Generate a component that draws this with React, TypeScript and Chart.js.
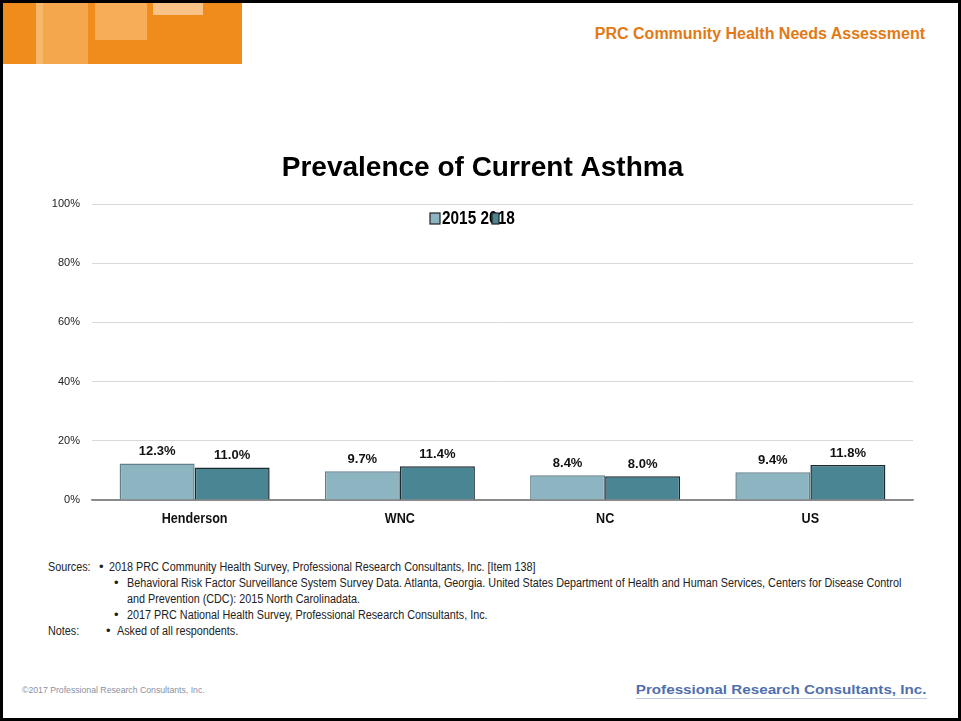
import React, { useEffect, useRef } from "react";
import { Chart, registerables } from "chart.js";

Chart.register(...registerables);

const TITLE = "Prevalence of Current Asthma";
const categories = ["Henderson", "WNC", "NC", "US"];
const seriesLabels = ["2015", "2018"];
const series2015 = [12.3, 9.7, 8.4, 9.4];
const series2018 = [11.0, 11.4, 8.0, 11.8];
const yTickValues = [0, 20, 40, 60, 80, 100];

const SANS = '"Liberation Sans", Arial, sans-serif';

const sourceLines = [
  { label: "Sources:", bullet: true, text: "2018 PRC Community Health Survey, Professional Research Consultants, Inc. [Item 138]", bx: 99, tx: 109 },
  { label: "", bullet: true, text: "Behavioral Risk Factor Surveillance System Survey Data. Atlanta, Georgia. United States Department of Health and Human Services, Centers for Disease Control", bx: 114, tx: 127 },
  { label: "", bullet: false, text: "and Prevention (CDC): 2015 North Carolinadata.", bx: 114, tx: 127 },
  { label: "", bullet: true, text: "2017 PRC National Health Survey, Professional Research Consultants, Inc.", bx: 114, tx: 127 },
  { label: "Notes:", bullet: true, text: "Asked of all respondents.", bx: 106, tx: 117 },
];

// draw condensed text (narrow face emulated by horizontal scaling)
function narrowText(ctx: any, text: string, x: number, y: number, sx: number, align: string) {
  ctx.save();
  ctx.translate(x, y);
  ctx.scale(sx, 1);
  ctx.textAlign = align;
  ctx.fillText(text, 0, 0);
  ctx.restore();
}

const overlayPlugin = {
  id: "overlay",
  afterDatasetsDraw(chart: any) {
    const ctx = chart.ctx;
    ctx.save();
    ctx.font = `bold 13px ${SANS}`;
    ctx.fillStyle = "#111";
    ctx.textAlign = "center";
    ctx.textBaseline = "middle";
    chart.data.datasets.forEach((ds: any, i: number) => {
      const meta = chart.getDatasetMeta(i);
      meta.data.forEach((bar: any, j: number) => {
        const v = ds.data[j] as number;
        ctx.fillText(v.toFixed(1) + "%", bar.x, bar.y - 12);
      });
    });
    ctx.restore();
  },
  afterDraw(chart: any) {
    const ctx = chart.ctx;
    ctx.save();
    // category labels (condensed bold)
    const xs = chart.scales.x;
    ctx.font = `bold 15px ${SANS}`;
    ctx.fillStyle = "#111";
    ctx.textBaseline = "middle";
    chart.data.labels.forEach((lab: string, i: number) => {
      narrowText(ctx, lab, xs.getPixelForTick(i), chart.chartArea.bottom + 19, 0.84, "center");
    });
    // title
    ctx.font = `bold 28px ${SANS}`;
    ctx.fillStyle = "#000";
    ctx.textAlign = "center";
    ctx.textBaseline = "middle";
    ctx.fillText(TITLE, 482.5, 168);
    // legend (overlapping, as in the reference)
    const ds = chart.data.datasets;
    const text = ds.map((d: any) => d.label).join(" ");
    ctx.font = `bold 19px ${SANS}`;
    ctx.fillStyle = "#000";
    narrowText(ctx, text, 442, 219, 0.81, "left");
    ctx.lineWidth = 1.2;
    ctx.fillStyle = ds[0].backgroundColor;
    ctx.strokeStyle = "#222";
    ctx.fillRect(430, 213, 10, 11);
    ctx.strokeRect(430, 213, 10, 11);
    ctx.fillStyle = ds[1].backgroundColor;
    ctx.fillRect(492, 213, 7, 11);
    ctx.strokeRect(492, 213, 7, 11);
    ctx.restore();
  },
};

function ChartCanvas() {
  const ref = useRef<HTMLCanvasElement>(null);
  useEffect(() => {
    if (!ref.current) return;
    const chart = new Chart(ref.current, {
      type: "bar",
      data: {
        labels: categories,
        datasets: [
          {
            label: seriesLabels[0],
            data: series2015,
            backgroundColor: "#8db5c1",
            borderColor: "#62808a",
            borderWidth: 1.5,
            categoryPercentage: 0.731,
            barPercentage: 1,
          },
          {
            label: seriesLabels[1],
            data: series2018,
            backgroundColor: "#4a8594",
            borderColor: "#1c2a2e",
            borderWidth: 1.5,
            categoryPercentage: 0.731,
            barPercentage: 1,
          },
        ],
      },
      options: {
        responsive: false,
        animation: false,
        devicePixelRatio: 1,
        layout: { padding: { left: 32, right: 48, top: 204, bottom: 10 } },
        plugins: {
          legend: { display: false },
          title: { display: false },
          tooltip: { enabled: false },
        },
        scales: {
          x: {
            grid: { display: false },
            border: { display: true, color: "#8a8a8a", width: 1.5 },
            ticks: { display: false },
            afterFit: (scale: any) => {
              scale.height = 30;
            },
          },
          y: {
            min: 0,
            max: 100,
            afterBuildTicks: (scale: any) => {
              scale.ticks = yTickValues.map((v) => ({ value: v }));
            },
            grid: {
              color: (c: any) => (c.tick && c.tick.value === 0 ? "#8a8a8a" : "#d9d9d9"),
              lineWidth: 1,
              drawTicks: false,
            },
            border: { display: false },
            ticks: {
              color: "#222",
              font: { family: SANS, size: 11 },
              padding: 12,
              callback: (v: any) => v + "%",
            },
            afterFit: (scale: any) => {
              scale.width = 60;
            },
          },
        },
      },
      plugins: [overlayPlugin],
    });
    return () => chart.destroy();
  }, []);
  return (
    <canvas
      ref={ref}
      width={961}
      height={540}
      style={{ position: "absolute", left: 0, top: 0, width: 961, height: 540 }}
    />
  );
}

const narrowStyle = (left: number, top: number): React.CSSProperties => ({
  position: "absolute",
  left,
  top,
  lineHeight: "16px",
  fontSize: 12,
  fontFamily: SANS,
  color: "#222",
  whiteSpace: "nowrap",
  transform: "scaleX(0.9)",
  transformOrigin: "0 0",
});

export default function App() {
  useEffect(() => {
    document.body.style.margin = "0";
  }, []);
  return (
    <div
      style={{
        position: "fixed",
        left: 0,
        top: 0,
        width: 961,
        height: 721,
        background: "#fff",
        overflow: "hidden",
        fontFamily: SANS,
      }}
    >
      {/* orange header block */}
      <div style={{ position: "absolute", left: 3, top: 3, width: 239, height: 61, background: "#ef8c1c" }} />
      <div style={{ position: "absolute", left: 36, top: 3, width: 52, height: 61, background: "#f5a74e" }} />
      <div style={{ position: "absolute", left: 36, top: 3, width: 7, height: 61, background: "#f8b86c" }} />
      <div style={{ position: "absolute", left: 95, top: 3, width: 52, height: 37, background: "#f7ac58" }} />
      <div style={{ position: "absolute", left: 153, top: 3, width: 50, height: 12, background: "#f9c387" }} />
      <div
        style={{
          position: "absolute",
          right: 36,
          top: 24,
          lineHeight: "20px",
          fontSize: 16,
          fontWeight: "bold",
          color: "#e27a14",
          whiteSpace: "nowrap",
          fontFamily: SANS,
        }}
      >
        PRC Community Health Needs Assessment
      </div>

      <ChartCanvas />

      {/* sources and notes */}
      {sourceLines.map((l, i) => (
        <React.Fragment key={i}>
          {l.label && <div style={narrowStyle(48, 559 + i * 16)}>{l.label}</div>}
          {l.bullet && (
            <div style={{ ...narrowStyle(l.bx, 559 + i * 16), transform: "none", fontSize: 13 }}>•</div>
          )}
          <div style={narrowStyle(l.tx, 559 + i * 16)}>{l.text}</div>
        </React.Fragment>
      ))}

      {/* footer */}
      <div style={{ position: "absolute", left: 22, top: 685, lineHeight: "10px", fontSize: 8.7, color: "#8a90a2", whiteSpace: "nowrap", fontFamily: SANS }}>
        ©2017 Professional Research Consultants, Inc.
      </div>
      <div
        style={{
          position: "absolute",
          right: 34,
          top: 682,
          lineHeight: "16px",
          fontSize: 13,
          fontWeight: "bold",
          color: "#4f6fae",
          whiteSpace: "nowrap",
          borderBottom: "1px solid #c3cde0",
          fontFamily: SANS,
          transform: "scaleX(1.17)",
          transformOrigin: "100% 0",
        }}
      >
        Professional Research Consultants, Inc.
      </div>

      {/* page border */}
      <div style={{ position: "absolute", left: 0, top: 0, width: 961, height: 721, boxSizing: "border-box", border: "3px solid #000", pointerEvents: "none" }} />
    </div>
  );
}
